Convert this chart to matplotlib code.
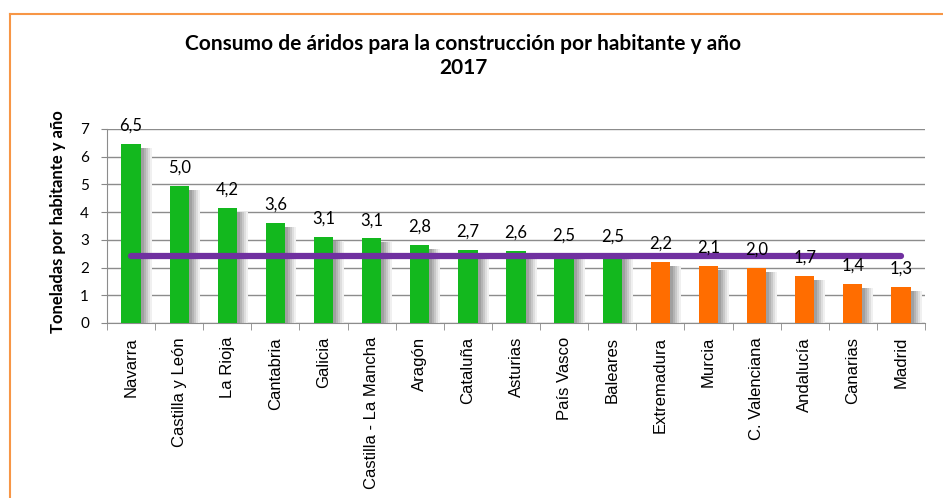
import matplotlib.pyplot as plt
import numpy as np

regiones = ["Navarra", "Castilla y León", "La Rioja", "Cantabria", "Galicia",
            "Castilla - La Mancha", "Aragón", "Cataluña", "Asturias", "País Vasco",
            "Baleares", "Extremadura", "Murcia", "C. Valenciana", "Andalucía",
            "Canarias", "Madrid"]
consumo = [6.45, 4.95, 4.15, 3.6, 3.1, 3.05, 2.8, 2.65, 2.6, 2.5,
           2.45, 2.2, 2.05, 2.0, 1.7, 1.4, 1.3]
etiquetas = ["6,5", "5,0", "4,2", "3,6", "3,1", "3,1", "2,8", "2,7", "2,6", "2,5",
             "2,5", "2,2", "2,1", "2,0", "1,7", "1,4", "1,3"]
media = 2.42
n_verde = 11

W, H = 943, 498
fig = plt.figure(figsize=(W / 100, H / 100), dpi=100)
ax = fig.add_axes([107 / W, 1 - 323 / H, 818 / W, 194 / H])

x = np.arange(len(regiones))
colores = ["#13b81e"] * n_verde + ["#ff6d00"] * (len(regiones) - n_verde)
w = 0.4
alto = np.array(consumo)
px = 1 / 48.1      # un pixel en unidades de categoria
py = 7 / 194       # un pixel en unidades de y

# sombra difuminada detras de cada barra
capas = [(11, "#f0f0f0"), (9, "#dedede"), (7, "#c8c8c8"), (5, "#b4b4b4"), (3, "#a0a0a0")]
for i, (d, c) in enumerate(capas):
    ax.bar(x + d * px, alto - 4 * py, width=w, color=c, zorder=2 + i * 0.1)
ax.bar(x, alto, width=w, color=colores, zorder=3)

# línea media
ax.plot([x[0], x[-1]], [media, media], color="#7030a0", lw=4.5,
        solid_capstyle="round", zorder=4)

for xi, h, t in zip(x, alto, etiquetas):
    ax.text(xi, h + 0.48, t, ha="center", va="baseline", fontsize=12,
            family="Lato", zorder=5)

ax.set_xlim(-0.5, len(regiones) - 0.5)
ax.set_ylim(0, 7)
ax.set_yticks(range(8))
ax.set_yticklabels([str(i) for i in range(8)], family="Lato", fontsize=11)
ax.set_xticks(x)
ax.set_xticklabels(regiones, rotation=90, fontsize=12, family="Liberation Sans")
ax.tick_params(axis="x", length=0, pad=10)
ax.set_xticks(np.arange(-0.5, len(regiones), 1), minor=True)
ax.tick_params(axis="x", which="minor", length=5, color="#888888")
ax.tick_params(axis="y", length=4, color="#888888", pad=9)
ax.grid(axis="y", color="#8c8c8c", lw=1, zorder=0)
ax.set_axisbelow(True)
for s in ["top", "right"]:
    ax.spines[s].set_visible(False)
for s in ["left", "bottom"]:
    ax.spines[s].set_color("#8c8c8c")

fig.text(58 / W, 1 - 222 / H, "Toneladas por habitante y año", rotation=90,
         ha="center", va="center", fontsize=12, fontweight="bold", family="Lato")

fig.text(463 / W, 1 - 50 / H, "Consumo de áridos para la construcción por habitante y año",
         ha="center", va="baseline", fontsize=15, fontweight="bold", family="Lato")
fig.text(463 / W, 1 - 74 / H, "2017", ha="center", va="baseline", fontsize=15,
         fontweight="bold", family="Lato")

# borde naranja
fig.add_artist(plt.Line2D([9.5 / W, 9.5 / W], [0, 1 - 14 / H], color="#f79646",
                          lw=1.5, transform=fig.transFigure))
fig.add_artist(plt.Line2D([9.5 / W, 1], [1 - 14 / H, 1 - 14 / H], color="#f79646",
                          lw=1.5, transform=fig.transFigure))

fig.savefig("out.png", dpi=100)
